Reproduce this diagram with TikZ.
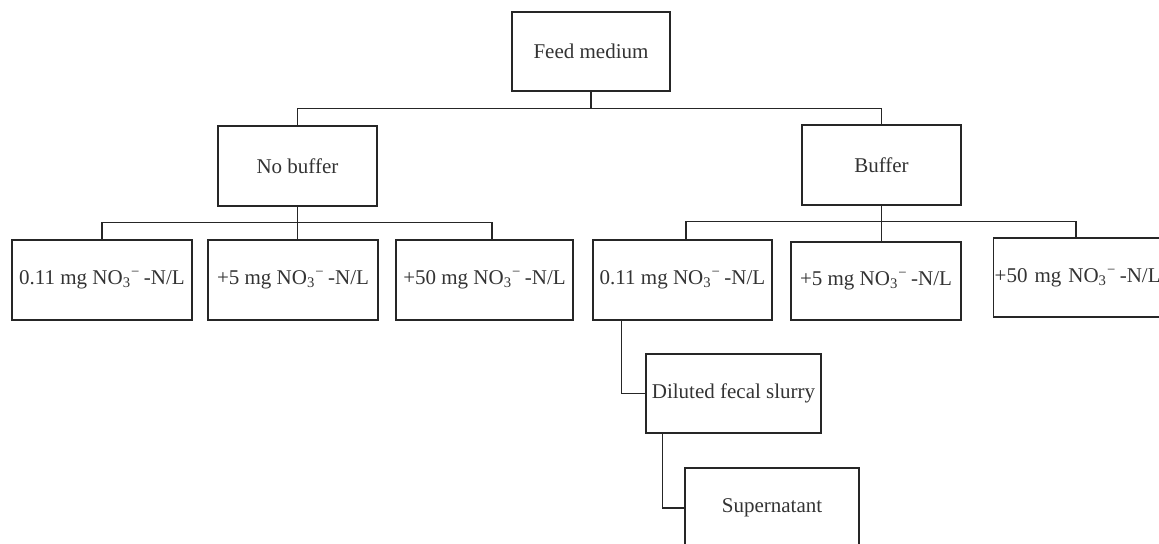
\documentclass[tikz,border=0pt]{standalone}
\usepackage{fontspec}
\setmainfont{Liberation Serif}
\begin{document}
\begin{tikzpicture}[x=0.5pt,y=-0.5pt,
  box/.style={draw=black!85,line width=0.65pt,rectangle,inner sep=0pt,text=black!80,
    font=\fontsize{10.5}{12}\selectfont,minimum height=40pt},
  link/.style={draw=black!85,line width=0.65pt}]
\useasboundingbox (0,0) rectangle (1159,544);
\newcommand{\nit}{NO\textsubscript{3}\textsuperscript{−}\,-N/L}
\node[box,minimum width=79pt,minimum height=39.5pt] (feed) at (591,51.5) {Feed medium};
\node[box,minimum width=79.5pt] (nobuf) at (297.5,166) {No buffer};
\node[box,minimum width=79.5pt] (buf) at (881.5,165) {Buffer};
\node[box,minimum width=90pt] (b1) at (102,280) {0.11 mg \nit};
\node[box,minimum width=85pt] (b2) at (293,280) {+5 mg \nit};
\node[box,minimum width=88.5pt] (b3) at (484.5,280) {+50 mg \nit};
\node[box,minimum width=89.5pt] (b4) at (682.5,280) {0.11 mg \nit};
\node[box,minimum width=85pt,minimum height=39pt] (b5) at (876,281) {+5 mg \nit};
\node[box,anchor=west,minimum height=39.5pt,text width=90pt,align=left,inner xsep=0.5pt] (b6) at (993,277.5) {+50 mg \nit};
\node[box,minimum width=87.5pt,minimum height=39.5pt] (dil) at (733.5,393.5) {Diluted fecal slurry};
\node[box,minimum width=87pt] (sup) at (772,508) {Supernatant};
% level 1
\draw[link] (feed.south) -- ++(0,17) coordinate (j1);
\draw[link] (nobuf.north) |- (j1) -| (buf.north);
% level 2 left
\draw[link] (nobuf.south) -- ++(0,16) coordinate (j2);
\draw[link] (b1.north) |- (j2) -| ([xshift=3.75pt]b3.north);
\draw[link] (j2) -- (j2 |- b2.north);
% level 2 right
\draw[link] (buf.south) -- ++(0,16) coordinate (j3);
\draw[link] ([xshift=1.75pt]b4.north) |- (j3) -| (b6.north -| 1076,0);
\draw[link] (j3) -- (j3 |- b5.north);
% chain
\draw[link] ([xshift=14.5pt]b4.south west) |- (dil.west);
\draw[link] ([xshift=8.5pt]dil.south west) |- (sup.west);
\end{tikzpicture}
\end{document}
